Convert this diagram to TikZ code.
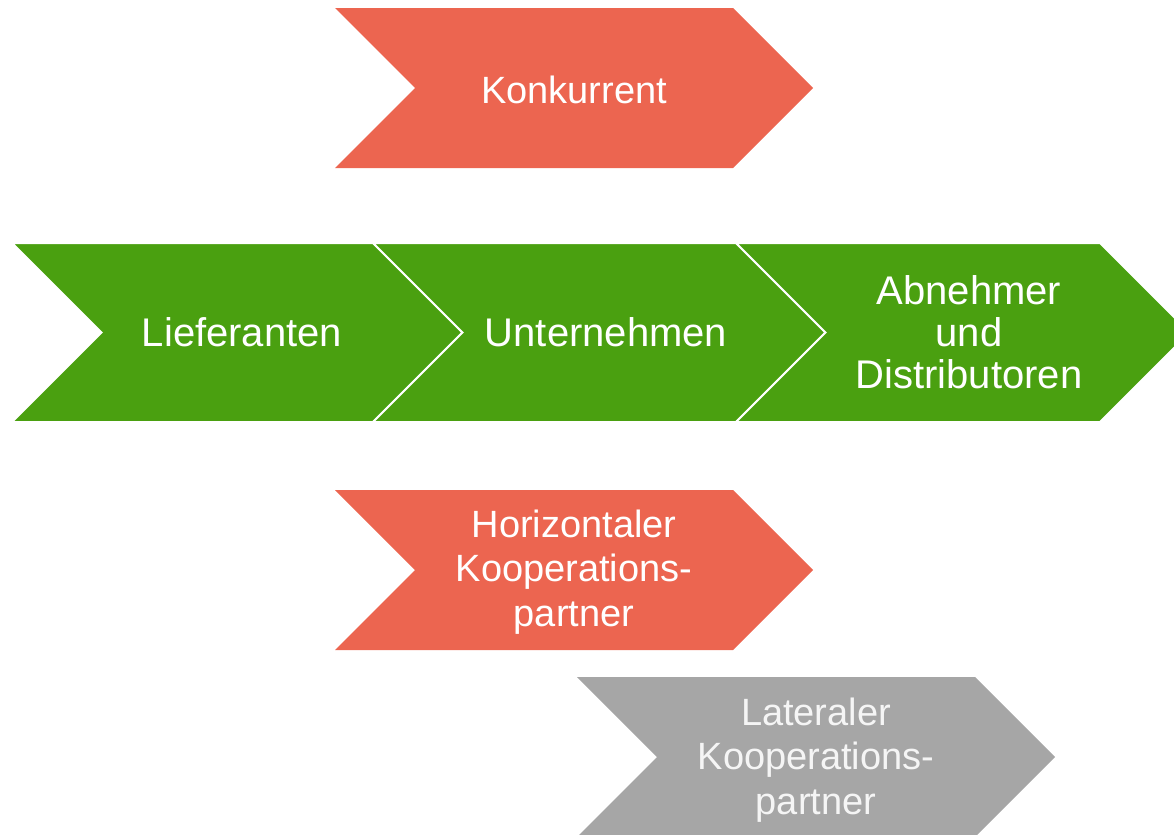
\documentclass[tikz,border=0pt]{standalone}
\usepackage{fontspec}
\setmainfont{Liberation Sans}
\definecolor{cred}{HTML}{EC6550}
\definecolor{cgreen}{HTML}{4AA010}
\definecolor{cgray}{HTML}{A6A6A6}
\tikzset{
  lbl/.style={text=white, align=center, inner sep=0pt,
    font=\fontsize{28.5}{33.5}\selectfont},
  glbl/.style={lbl, font=\fontsize{30}{31.3}\selectfont},
}
% chevron: #1 = style, (#2,#3) = left-top corner, #4 = body width, #5 = half height
\newcommand{\chevron}[5]{%
  \path[#1] (#2,#3) -- ++(#4,0) -- ++(#5,#5) -- ++(-#5,#5) -- ++(-#4,0) -- ++(#5,-#5) -- cycle;}
\begin{document}
\begin{tikzpicture}[x=0.75pt,y=-0.75pt]
\useasboundingbox (0,0) rectangle (1174,835);
\clip (0,0) rectangle (1174,835);
% top red
\chevron{fill=cred}{335}{8}{398}{80}
\node[lbl] (konk) at (574,90) {Konkurrent};
% green chain
\chevron{fill=cgreen, draw=white, line width=1.5pt}{12}{243}{361}{89.5}
\chevron{fill=cgreen, draw=white, line width=1.5pt}{373}{243}{363}{89.5}
\chevron{fill=cgreen, draw=white, line width=1.5pt}{736}{243}{364}{89.5}
\node[glbl] (lief) at (242,332) {Lieferanten};
\node[glbl] (unt) at (606,332) {Unternehmen};
\node[glbl] (abn) at (969,332) {Abnehmer\\und\\Distributoren};
% horizontal
\chevron{fill=cred}{335}{490}{398}{80}
\node[lbl] (hor) at (574,572) {Horizontaler\\Kooperations-\\partner};
% lateral
\chevron{fill=cgray}{577}{677}{398}{80}
\node[lbl, text=white!96!black] (lat) at (816,760) {Lateraler\\Kooperations-\\partner};
\end{tikzpicture}
\end{document}
